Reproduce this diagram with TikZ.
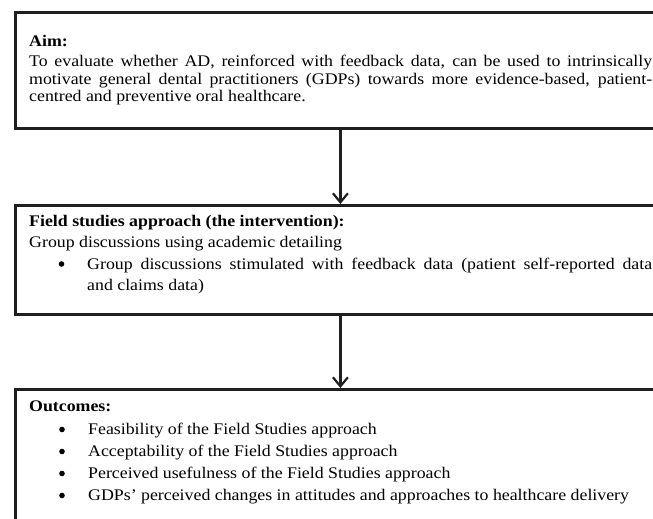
\documentclass[tikz,border=0pt]{standalone}
\usepackage{fontspec}
\setmainfont{Liberation Serif}[FakeStretch=1.1]
\usetikzlibrary{arrows.meta}
\begin{document}
\begin{tikzpicture}[x=1pt,y=-1pt,
  box/.style={draw=black!88, line width=2.8pt, inner sep=0pt, anchor=north west, minimum width=650pt},
  arr/.style={draw=black!88, line width=2.2pt, -{Straight Barb[length=9pt,width=15pt,line width=2.2pt]}},
  txt/.style={anchor=base west, inner sep=0pt, font=\fontsize{16.2}{18}\selectfont},
  para/.style={txt, align=justify},
  bul/.style={circle, fill=black, inner sep=0pt, minimum size=5.6pt}
]
\useasboundingbox (0,0) rectangle (653,519);
\clip (0,0) rectangle (653,519);
% boxes
\node[box, minimum height=116pt] (aim) at (14,11) {};
\node[box, minimum height=109pt] (field) at (14,204) {};
\node[box, minimum height=150pt] (out) at (14,388) {};
% arrows
\draw[arr] (aim.south) -- (field.north);
\draw[arr] (field.south) -- (out.north);
% box 1 text
\node[txt] (aimh) at (29,46.5) {\textbf{Aim:}};
\node[para, text width=623pt, font=\fontsize{16.2}{17.8}\selectfont] (aimt) at (29,66.3)
 {To evaluate whether AD, reinforced with feedback data, can be used to intrinsically\linebreak
  motivate general dental practitioners (GDPs) towards more evidence-based, patient-\linebreak
  centred and preventive oral healthcare.};
% box 2 text
\node[txt] (fieldh) at (29,226.7) {\textbf{Field studies approach (the intervention):}};
\node[txt] (fieldt) at (29,247) {Group discussions using academic detailing};
\node[bul] (fb1) at (61.5,264) {};
\node[para, text width=565pt, font=\fontsize{16.2}{21}\selectfont] (ft1) at (87,269)
 {Group discussions stimulated with feedback data (patient self-reported data\linebreak
  and claims data)};
% box 3 text
\node[txt] (outh) at (29,411.5) {\textbf{Outcomes:}};
\node[bul] (ob1) at (62,429.5) {};
\node[txt] (ot1) at (88,434.5) {Feasibility of the Field Studies approach};
\node[bul] (ob2) at (62,451.5) {};
\node[txt] (ot2) at (88,456.5) {Acceptability of the Field Studies approach};
\node[bul] (ob3) at (62,473.5) {};
\node[txt] (ot3) at (88,478.5) {Perceived usefulness of the Field Studies approach};
\node[bul] (ob4) at (62,495.5) {};
\node[txt] (ot4) at (88,500.5) {GDPs’ perceived changes in attitudes and approaches to healthcare delivery};
\end{tikzpicture}
\end{document}
